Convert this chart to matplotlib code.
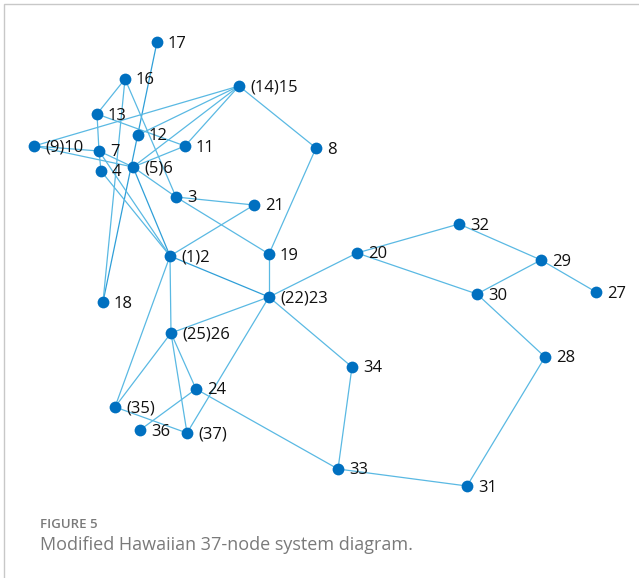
import matplotlib.pyplot as plt
from matplotlib.patches import Rectangle

# node names and layout positions (pixel space of the original diagram)
nodes = ['17', '16', '(14)15', '13', '12', '11', '(9)10', '7', '8', '4',
         '(5)6', '3', '21', '32', '(1)2', '19', '20', '29', '30', '27',
         '(22)23', '18', '(25)26', '28', '34', '24', '(35)', '36', '(37)',
         '33', '31']
node_x = [157, 125, 239, 97, 138, 185, 34, 99, 316, 101,
          133, 176, 254, 459, 170, 269, 357, 541, 477, 596,
          269, 103, 171, 545, 352, 196, 115, 140, 187,
          338, 467]
node_y = [42, 79, 86, 114, 135, 146, 146, 151, 148, 171,
          167, 197, 205, 224, 256, 254, 253, 260, 294, 292,
          297, 302, 333, 357, 367, 389, 407, 430, 433,
          469, 486]

edges = [
    ('17', '18'), ('16', '13'), ('16', '18'), ('16', '3'),
    ('13', '7'), ('13', '11'),
    ('(14)15', '(9)10'), ('(14)15', '12'), ('(14)15', '(5)6'),
    ('(14)15', '11'), ('(14)15', '8'),
    ('(9)10', '7'), ('(9)10', '(5)6'), ('7', '(5)6'), ('7', '4'),
    ('7', '(1)2'), ('4', '(1)2'),
    ('(5)6', '11'), ('(5)6', '3'), ('(5)6', '(1)2'),
    ('3', '21'), ('3', '19'), ('21', '(1)2'), ('8', '19'),
    ('19', '(22)23'), ('(1)2', '(22)23'), ('(1)2', '(25)26'),
    ('(1)2', '(35)'),
    ('(22)23', '20'), ('(22)23', '34'), ('(22)23', '(25)26'),
    ('(22)23', '(37)'),
    ('20', '32'), ('20', '30'), ('32', '29'), ('29', '30'), ('29', '27'),
    ('30', '28'), ('28', '31'), ('31', '33'), ('33', '34'), ('33', '24'),
    ('(25)26', '(35)'), ('(25)26', '24'), ('(25)26', '(37)'),
    ('24', '36'), ('(35)', '(37)'),
]
# parallel lines in the original, these look darker
double_edges = [('(5)6', '(1)2'), ('(1)2', '(22)23'), ('17', '18')]

pos = {n: (x, y) for n, x, y in zip(nodes, node_x, node_y)}

fig = plt.figure(figsize=(6.39, 5.78), dpi=100)
ax = fig.add_axes([0, 0, 1, 1])
ax.set_xlim(0, 639)
ax.set_ylim(578, 0)
ax.axis('off')

for a, b in edges:
    col = '#2f9fd8' if (a, b) in double_edges else '#5ab9e3'
    ax.plot([pos[a][0], pos[b][0]], [pos[a][1], pos[b][1]],
            color=col, linewidth=0.9, zorder=1)

ax.scatter(node_x, node_y, s=72, color='#0070c0', zorder=2, linewidths=0)

for n, x, y in zip(nodes, node_x, node_y):
    ax.text(x + 11, y + 1.5, n, fontsize=12, family='Open Sans',
            va='center', ha='left', color='#111111', zorder=3)

# caption
ax.text(40, 524, 'FIGURE 5', fontsize=9.5, family='Open Sans',
        color='#7a7a7a', va='center', fontweight='semibold')
ax.text(40, 545, 'Modified Hawaiian 37-node system diagram.', fontsize=13,
        family='Open Sans', color='#7a7a7a', va='center')

# light frame around the figure
fig.patches.append(Rectangle((4 / 639, -0.01), 1.2, 1 - 4 / 578 + 0.01,
                             transform=fig.transFigure, fill=False,
                             edgecolor='#c8c8c8', linewidth=1.0))

fig.savefig('out.png', dpi=100)
